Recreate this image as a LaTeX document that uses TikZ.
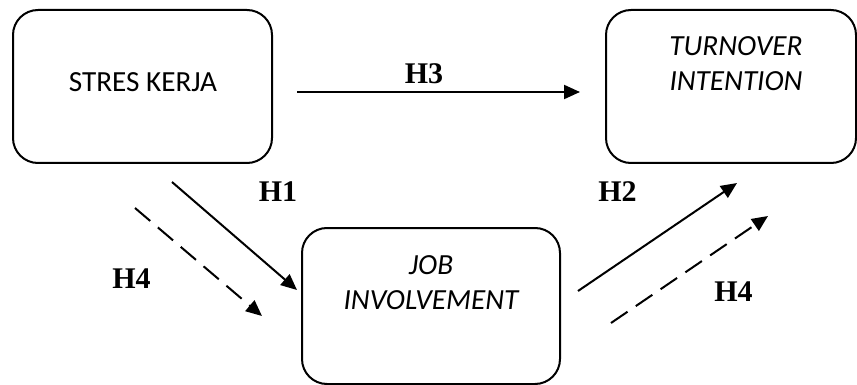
\documentclass[tikz,border=0pt]{standalone}
\usepackage{fontspec}
\setmainfont{Liberation Serif}
\setsansfont{Carlito}
\usetikzlibrary{arrows.meta}

\begin{document}
\begin{tikzpicture}[x=0.5pt,y=-0.5pt,
    >={Triangle[length=8pt,width=7pt]}]

      \useasboundingbox (0,0) rectangle (857,385);

      \begin{scope}[every node/.style={draw,line width=1pt,rounded corners=12.5pt,inner sep=0pt}]
        \node[minimum width=129.5pt,minimum height=76.5pt] (stres)    at (142.5,86.5) {};
        \node[minimum width=125pt,minimum height=76.5pt]   (turnover) at (731,86.5)   {};
        \node[minimum width=129pt,minimum height=78pt]     (job)      at (431,306)    {};
      \end{scope}

      \begin{scope}[every node/.style={font=\sffamily\fontsize{14.6}{17.6}\selectfont,align=center}]
        \node (tstres)    at (143,82)   {STRES KERJA};
        \node (tturnover) at (736,63.5) {\itshape TURNOVER\\\itshape INTENTION};
        \node (tjob)      at (431,282.5) {\itshape JOB\\\itshape INVOLVEMENT};
      \end{scope}

      \coordinate (h3s) at (297,92);
      \coordinate (h3e) at (580,92);
      \coordinate (h1s) at (172,182);
      \coordinate (h1e) at (297,290);
      \coordinate (h4as) at (135,208);
      \coordinate (h4ae) at (262,316);
      \coordinate (h2s) at (578,291);
      \coordinate (h2e) at (737,183);
      \coordinate (h4bs) at (611,323);
      \coordinate (h4be) at (768,216);

      \begin{scope}[every edge/.style={draw,->,line width=1pt}]
        \path (h3s)  edge (h3e);
        \path (h1s)  edge (h1e);
        \path (h2s)  edge (h2e);
        \path (h4as) edge[dash pattern=on 10pt off 5pt] (h4ae);
        \path (h4bs) edge[dash pattern=on 10pt off 5pt] (h4be);
      \end{scope}

      \begin{scope}[every node/.style={font=\bfseries\fontsize{15}{17}\selectfont}]
        \node (lh3)  at (424,74)    {H3};
        \node (lh1)  at (278,192)   {H1};
        \node (lh4a) at (131.5,279) {H4};
        \node (lh2)  at (617.5,192) {H2};
        \node (lh4b) at (733.5,292) {H4};
      \end{scope}

    \end{tikzpicture}
\end{document}
